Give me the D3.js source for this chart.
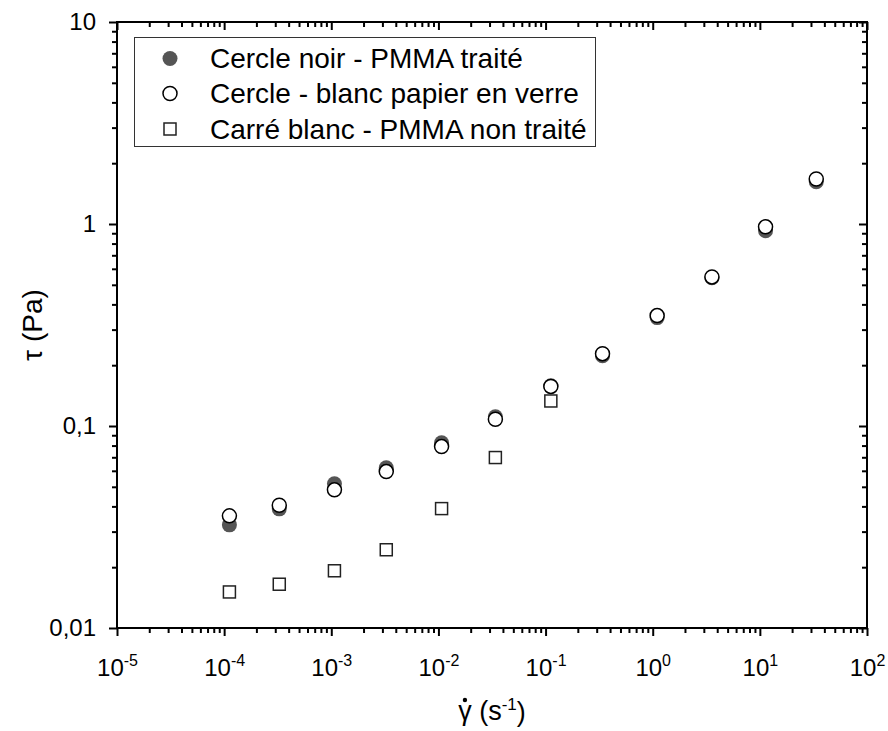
<!DOCTYPE html>
<html>
<head>
<meta charset="utf-8">
<script src="https://cdn.jsdelivr.net/npm/d3@7"></script>
<style>
  html, body { margin: 0; padding: 0; background: #fff; }
  svg { display: block; }
  text { font-family: "Liberation Sans", Arial, sans-serif; fill: #000; }
</style>
</head>
<body>
<svg id="chart" width="888" height="731"></svg>
<script>
// ---- data ----
const shearRate = [1.12e-4, 3.27e-4, 1.07e-3, 3.26e-3, 1.07e-2, 3.4e-2, 0.112, 0.34, 1.10, 3.57, 11.3, 33.6];
const tauFilled = [0.0324, 0.0389, 0.0517, 0.0621, 0.0826, 0.111, 0.158, 0.223, 0.344, 0.542, 0.927, 1.62];
const tauOpen   = [0.0359, 0.0405, 0.0483, 0.0595, 0.0791, 0.108, 0.157, 0.228, 0.352, 0.547, 0.968, 1.67];
const shearRateSquare = [1.12e-4, 3.27e-4, 1.07e-3, 3.26e-3, 1.07e-2, 3.4e-2, 0.112];
const tauSquare = [0.01508, 0.01647, 0.0192, 0.0244, 0.0390, 0.0698, 0.133];
const xTickExponents = [-5, -4, -3, -2, -1, 0, 1, 2];
const yTickValues = [0.01, 0.1, 1, 10];
const yTickLabels = ["0,01", "0,1", "1", "10"];
const legendLabels = ["Cercle noir - PMMA traité", "Cercle - blanc papier en verre", "Carré blanc - PMMA non traité"];

// ---- layout ----
const svg = d3.select("#chart");
const L = 117, R = 867, T = 22, B = 628;
const x = d3.scaleLog().domain([1e-5, 1e2]).range([L, R]);
const y = d3.scaleLog().domain([0.01, 10]).range([B, T]);

function minorTicks(lo, hi) {
  const out = [];
  for (let e = lo; e < hi; e++) for (let k = 2; k <= 9; k++) out.push(k * Math.pow(10, e));
  return out;
}
const xMajor = xTickExponents.map(e => Math.pow(10, e));
const xMinor = minorTicks(-5, 2);
const yMinor = minorTicks(-2, 1);

const axisStyle = g => {
  g.select(".domain").remove();
  g.selectAll(".tick line").attr("stroke", "#000").attr("stroke-width", 2);
};

// bottom (outward)
svg.append("g").attr("transform", `translate(0,${B})`)
  .call(d3.axisBottom(x).tickValues(xMinor).tickSize(5).tickFormat(""))
  .call(axisStyle);
const xb = svg.append("g").attr("transform", `translate(0,${B})`)
  .call(d3.axisBottom(x).tickValues(xMajor).tickSize(8).tickPadding(18).tickFormat(""))
  .call(axisStyle);
xb.selectAll(".tick text").each(function(d) {
  const t = d3.select(this).attr("font-size", 24).attr("dy", "0.9em").attr("font-family", "Liberation Sans, Arial, sans-serif");
  t.append("tspan").text("10");
  t.append("tspan").attr("font-size", 16).attr("dy", "-0.6em").text(String(Math.round(Math.log10(d))));
});
// top (inward)
svg.append("g").attr("transform", `translate(0,${T})`)
  .call(d3.axisBottom(x).tickValues(xMinor).tickSize(5).tickFormat(""))
  .call(axisStyle);
svg.append("g").attr("transform", `translate(0,${T})`)
  .call(d3.axisBottom(x).tickValues(xMajor).tickSize(8).tickFormat(""))
  .call(axisStyle);
// left (outward)
svg.append("g").attr("transform", `translate(${L},0)`)
  .call(d3.axisLeft(y).tickValues(yMinor).tickSize(5).tickFormat(""))
  .call(axisStyle);
svg.append("g").attr("transform", `translate(${L},0)`)
  .call(d3.axisLeft(y).tickValues(yTickValues).tickSize(8).tickPadding(13)
    .tickFormat((d, i) => yTickLabels[i]))
  .call(axisStyle)
  .call(g => g.selectAll(".tick text").attr("font-size", 24).attr("font-family", "Liberation Sans, Arial, sans-serif"));
// right (inward)
svg.append("g").attr("transform", `translate(${R},0)`)
  .call(d3.axisLeft(y).tickValues(yMinor).tickSize(5).tickFormat(""))
  .call(axisStyle);
svg.append("g").attr("transform", `translate(${R},0)`)
  .call(d3.axisLeft(y).tickValues(yTickValues).tickSize(8).tickFormat(""))
  .call(axisStyle);

// frame
svg.append("rect").attr("x", L).attr("y", T).attr("width", R - L).attr("height", B - T)
  .attr("fill", "none").attr("stroke", "#000").attr("stroke-width", 2);

// ---- marks ----
const filled = shearRate.map((v, i) => ({ x: v, y: tauFilled[i] }));
const open = shearRate.map((v, i) => ({ x: v, y: tauOpen[i] }));
const squares = shearRateSquare.map((v, i) => ({ x: v, y: tauSquare[i] }));
const R0 = 7, S0 = 12;

svg.append("g").selectAll("circle").data(filled).join("circle")
  .attr("cx", d => x(d.x)).attr("cy", d => y(d.y)).attr("r", R0 + 0.5)
  .attr("fill", "#555555");
svg.append("g").selectAll("rect").data(squares).join("rect")
  .attr("x", d => x(d.x) - S0 / 2).attr("y", d => y(d.y) - S0 / 2)
  .attr("width", S0).attr("height", S0)
  .attr("fill", "#fff").attr("stroke", "#222").attr("stroke-width", 1.5);
svg.append("g").selectAll("circle").data(open).join("circle")
  .attr("cx", d => x(d.x)).attr("cy", d => y(d.y)).attr("r", R0)
  .attr("fill", "#fff").attr("stroke", "#000").attr("stroke-width", 1.5);

// ---- legend ----
const lg = svg.append("g");
lg.append("rect").attr("x", 134.5).attr("y", 37.5).attr("width", 461).attr("height", 109)
  .attr("fill", "#fff").attr("stroke", "#333").attr("stroke-width", 1);
const rowY = [58.5, 93.5, 129];
lg.append("circle").attr("cx", 170).attr("cy", rowY[0]).attr("r", 7.5).attr("fill", "#555555");
lg.append("circle").attr("cx", 170).attr("cy", rowY[1]).attr("r", 7).attr("fill", "#fff").attr("stroke", "#000").attr("stroke-width", 1.5);
lg.append("rect").attr("x", 170 - 6).attr("y", rowY[2] - 6).attr("width", 12).attr("height", 12).attr("fill", "#fff").attr("stroke", "#222").attr("stroke-width", 1.5);
lg.selectAll("text.lab").data(legendLabels).join("text").attr("class", "lab")
  .attr("x", 210).attr("y", (d, i) => rowY[i] + 9.5)
  .attr("font-size", 28).text(d => d);

// ---- axis titles ----
const xt = svg.append("text").attr("x", (L + R) / 2).attr("y", 720).attr("text-anchor", "middle").attr("font-size", 27);
xt.append("tspan").attr("class", "gamma").text("γ");
xt.append("tspan").text(" (s");
xt.append("tspan").attr("font-size", 17).attr("dy", "-0.6em").text("-1");
xt.append("tspan").attr("dy", "0.4em").text(")");
// dot over gamma
const gNode = xt.select(".gamma").node();
const gb = gNode.getExtentOfChar ? gNode.getExtentOfChar(0) : null;
if (gb) {
  svg.append("circle").attr("cx", gb.x + gb.width / 2).attr("cy", gb.y + 4).attr("r", 2.2).attr("fill", "#000");
}

svg.append("text").attr("transform", `translate(42,${(T + B) / 2}) rotate(-90)`)
  .attr("text-anchor", "middle").attr("font-size", 28).text("τ (Pa)");
</script>
</body>
</html>
